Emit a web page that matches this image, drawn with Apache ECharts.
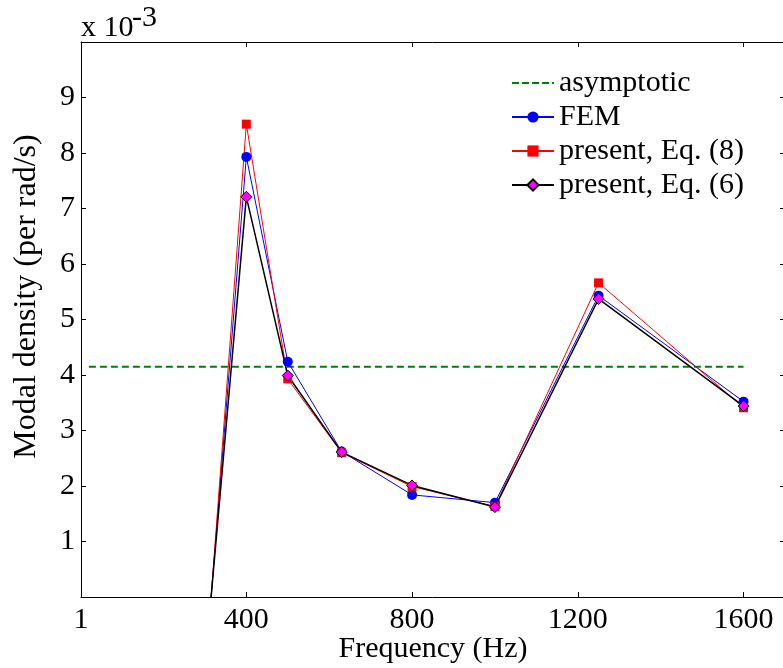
<!DOCTYPE html>
<html>
<head>
<meta charset="utf-8">
<script src="https://cdn.jsdelivr.net/npm/echarts@6/dist/echarts.min.js"></script>
<style>
html,body{margin:0;padding:0;background:#fff;}
#chart{width:783px;height:668px;}
</style>
</head>
<body>
<div id="chart"></div>
<script>
// Values in units of 1e-3 (per rad/s)
var freqs = [315, 400, 500, 630, 800, 1000, 1250, 1600];
var fem   = [0, 7.93, 4.24, 2.62, 1.84, 1.70, 5.43, 3.52];
var eq8   = [0, 8.52, 3.93, 2.60, 1.99, 1.63, 5.66, 3.41];
var eq6   = [0, 7.21, 3.99, 2.61, 2.01, 1.62, 5.37, 3.44];
var asymX = [20, 1600];
var asymY = [4.15, 4.15];
var xTicks = [1, 400, 800, 1200, 1600];
var yTicks = [1, 2, 3, 4, 5, 6, 7, 8, 9];
var seriesNames = ['asymptotic', 'FEM', 'present, Eq. (8)', 'present, Eq. (6)'];

var FONT = 'Liberation Serif';
var FS = 30;

function pts(xs, ys) {
  return xs.map(function (x, i) {
    var p = {value: [x, ys[i]]};
    if (ys[i] === 0) p.symbol = 'none';
    return p;
  });
}

var chart = echarts.init(document.getElementById('chart'), null, {renderer: 'canvas'});

var axisCommon = {
  type: 'value',
  axisLine: {show: true, onZero: false, lineStyle: {color: '#000', width: 1}},
  splitLine: {show: false}
};
function plain(v) { return String(v); }

// dashed-line legend icon for the asymptotic curve
var dashIcon = 'path://M0,0h7v2h-7zM10,0h7v2h-7zM20,0h7v2h-7zM30,0h7v2h-7zM40,0h2v2h-2z';

var option = {
  backgroundColor: '#fff',
  animation: false,
  textStyle: {fontFamily: FONT},
  grid: {left: 81, top: 42, width: 704, height: 555, containLabel: false, outerBoundsMode: 'none'},
  graphic: [
    {type: 'text', left: 81, top: 13, style: {text: 'x 10', fontFamily: FONT, fontSize: FS, fill: '#000'}},
    {type: 'text', left: 132, top: 3, style: {text: '-3', fontFamily: FONT, fontSize: FS, fill: '#000'}}
  ],
  legend: {
    orient: 'vertical', left: 511, top: 68, padding: 0,
    itemWidth: 42, itemHeight: 14, itemGap: 4,
    textStyle: {fontFamily: FONT, fontSize: FS, color: '#000'},
    data: [
      {name: seriesNames[0], icon: dashIcon, itemStyle: {color: '#008000'}},
      {name: seriesNames[1]},
      {name: seriesNames[2]},
      {name: seriesNames[3]}
    ]
  },
  xAxis: [
    Object.assign({}, axisCommon, {
      position: 'bottom', min: 1, max: 1700,
      axisTick: {show: true, inside: true, length: 5, customValues: xTicks, lineStyle: {color: '#000'}},
      axisLabel: {show: true, customValues: xTicks, formatter: plain, margin: 8, fontFamily: FONT, fontSize: FS, color: '#000'},
      name: 'Frequency (Hz)', nameLocation: 'middle', nameGap: 37, nameMoveOverlap: false,
      nameTextStyle: {fontFamily: FONT, fontSize: FS, color: '#000'}
    }),
    Object.assign({}, axisCommon, {
      position: 'top', min: 1, max: 1700,
      axisTick: {show: true, inside: true, length: 5, customValues: xTicks, lineStyle: {color: '#000'}},
      axisLabel: {show: false}
    })
  ],
  yAxis: [
    Object.assign({}, axisCommon, {
      position: 'left', min: 0, max: 10, interval: 1,
      axisTick: {show: true, inside: true, length: 5, customValues: yTicks, lineStyle: {color: '#000'}},
      axisLabel: {show: true, customValues: yTicks, formatter: plain, margin: 6, fontFamily: FONT, fontSize: FS, color: '#000'},
      name: 'Modal density (per rad/s)', nameLocation: 'middle', nameGap: 38, nameRotate: 90, nameMoveOverlap: false,
      nameTextStyle: {fontFamily: FONT, fontSize: 32, color: '#000', padding: [0, 0, 0, 46]}
    }),
    Object.assign({}, axisCommon, {
      position: 'right', min: 0, max: 10, interval: 1,
      axisTick: {show: true, inside: true, length: 5, customValues: yTicks, lineStyle: {color: '#000'}},
      axisLabel: {show: false}
    })
  ],
  series: [
    {
      name: seriesNames[0], type: 'line', data: pts(asymX, asymY), symbol: 'none',
      color: '#008000', lineStyle: {color: '#008000', width: 2, type: [7, 4]}
    },
    {
      name: seriesNames[1], type: 'line', data: pts(freqs, fem), symbol: 'circle', symbolSize: 10,
      color: '#0000ff', lineStyle: {color: '#0000ff', width: 1}, itemStyle: {color: '#0000ff'}
    },
    {
      name: seriesNames[2], type: 'line', data: pts(freqs, eq8), symbol: 'rect', symbolSize: 9,
      color: '#ff0000', lineStyle: {color: '#ff0000', width: 1}, itemStyle: {color: '#ff0000'}
    },
    {
      name: seriesNames[3], type: 'line', data: pts(freqs, eq6), symbol: 'diamond', symbolSize: 11,
      color: '#ff00ff', lineStyle: {color: '#000000', width: 1.5},
      itemStyle: {color: '#ff00ff', borderColor: '#000', borderWidth: 1}
    }
  ]
};
chart.setOption(option);
</script>
</body>
</html>
